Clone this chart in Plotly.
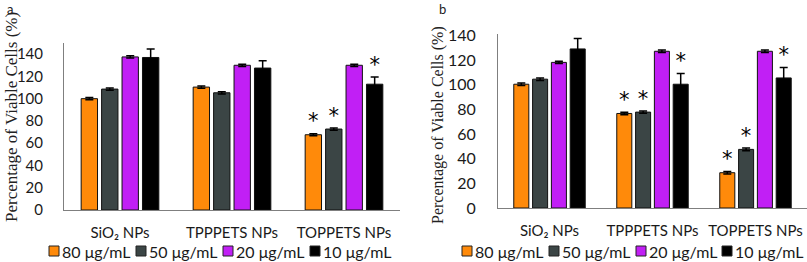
import plotly.graph_objects as go

W, H = 807, 262

categories = ["SiO₂ NPs", "TPPPETS NPs", "TOPPETS NPs"]
series_names = ["80 μg/mL", "50 μg/mL", "20 μg/mL", "10 μg/mL"]
colors = ["#FF8A0A", "#3B4545", "#C11FF5", "#000000"]
y_ticks = [0, 20, 40, 60, 80, 100, 120, 140]

# Panel a
a_80 = [100, 110.4, 67.6]
a_50 = [108.6, 105.3, 72.7]
a_20 = [137.5, 130, 130]
a_10 = [137, 127.5, 113]
a_err_80 = [1, 1, 1]
a_err_50 = [1, 1, 1]
a_err_20 = [1, 1, 1]
a_err_10 = [7.5, 6.5, 6.5]
a_sig_80 = ["", "", "*"]
a_sig_50 = ["", "", "*"]
a_sig_20 = ["", "", ""]
a_sig_10 = ["", "", "*"]

# Panel b
b_80 = [100.3, 76.6, 28.6]
b_50 = [104.4, 77.7, 47.5]
b_20 = [118, 127, 127]
b_10 = [128.9, 100.3, 105.4]
b_err_80 = [1, 1, 1]
b_err_50 = [1, 1, 1.2]
b_err_20 = [1, 1, 1]
b_err_10 = [8.4, 8.7, 8.5]
b_sig_80 = ["", "*", "*"]
b_sig_50 = ["", "*", "*"]
b_sig_20 = ["", "", ""]
b_sig_10 = ["", "*", "*"]

panels = [
    ("x", "y", [a_80, a_50, a_20, a_10], [a_err_80, a_err_50, a_err_20, a_err_10],
     [a_sig_80, a_sig_50, a_sig_20, a_sig_10]),
    ("x2", "y2", [b_80, b_50, b_20, b_10], [b_err_80, b_err_50, b_err_20, b_err_10],
     [b_sig_80, b_sig_50, b_sig_20, b_sig_10]),
]

SANS = "Lato, 'Open Sans', sans-serif"
SERIF = "'Liberation Serif', 'Times New Roman', serif"

fig = go.Figure()
for xa, ya, vals, errs, sigs in panels:
    for i in range(4):
        fig.add_trace(go.Bar(
            x=categories, y=vals[i], name=series_names[i], xaxis=xa, yaxis=ya,
            marker=dict(color=colors[i], line=dict(color="#111111", width=1)),
            error_y=dict(type="data", array=errs[i], visible=True,
                         color="#000000", thickness=1.5, width=4),
            showlegend=False, offsetgroup=str(i),
        ))
    for i in range(4):
        tops = [v + e for v, e in zip(vals[i], errs[i])]
        fig.add_trace(go.Scatter(
            x=categories, y=tops, text=sigs[i], mode="text",
            textposition="top center", xaxis=xa, yaxis=ya,
            textfont=dict(family="'DejaVu Sans', sans-serif", size=21, color="#000000"),
            showlegend=False, offsetgroup=str(i), hoverinfo="skip",
        ))

def px_x(p):
    return p / W

def px_y(p):
    return 1 - p / H

axis_common = dict(showline=True, linecolor="#7f7f7f", linewidth=1, ticks="",
                   showgrid=False, zeroline=False, automargin=False,
                   tickfont=dict(family=SANS, size=15, color="#1a1a1a"))

fig.update_layout(
    width=W, height=H,
    margin=dict(l=0, r=0, t=0, b=0, pad=0, autoexpand=False),
    paper_bgcolor="white", plot_bgcolor="white",
    barmode="group", bargap=0.27, bargroupgap=0.2,
    scattermode="group", scattergap=0.27,
    showlegend=False,
    xaxis=dict(domain=[px_x(64), px_x(400)], anchor="y", ticklabelstandoff=9, **axis_common),
    yaxis=dict(domain=[px_y(210), px_y(43)], anchor="x", range=[0, 150],
               tickvals=y_ticks, ticklabelstandoff=17, **axis_common),
    xaxis2=dict(domain=[px_x(498), 1.0], anchor="y2", ticklabelstandoff=9, **axis_common),
    yaxis2=dict(domain=[px_y(208), px_y(34)], anchor="x2", range=[0, 141],
                tickvals=y_ticks, ticklabelstandoff=18, **axis_common),
)
fig.update_yaxes(tickfont=dict(size=16))
fig.update_layout(yaxis_tickfont_size=15)

annotations = []
shapes = []
# panel letters
annotations.append(dict(text="a", x=px_x(10), y=px_y(9), xref="paper", yref="paper",
                        xanchor="center", yanchor="middle",
                        showarrow=False, font=dict(family=SANS, size=13, color="#222")))
annotations.append(dict(text="b", x=px_x(443), y=px_y(9), xref="paper", yref="paper",
                        xanchor="center", yanchor="middle",
                        showarrow=False, font=dict(family=SANS, size=13, color="#222")))
# y titles
annotations.append(dict(text="Percentage of Viable Cells (%)", x=px_x(11), y=px_y(117),
                        xref="paper", yref="paper", showarrow=False, textangle=-90,
                        xanchor="center", yanchor="middle",
                        font=dict(family=SERIF, size=17, color="#222")))
annotations.append(dict(text="Percentage of Viable Cells (%)", x=px_x(438), y=px_y(125),
                        xref="paper", yref="paper", showarrow=False, textangle=-90,
                        xanchor="center", yanchor="middle",
                        font=dict(family=SERIF, size=16, color="#222")))

# legends
legend_rows = [([49, 136, 223, 310], 251, 16), ([462, 549, 636, 722], 251, 16)]
for xs, yc, fs in legend_rows:
    for i, x0 in enumerate(xs):
        shapes.append(dict(type="rect", xref="paper", yref="paper",
                           x0=px_x(x0), x1=px_x(x0 + 10), y0=px_y(yc + 5), y1=px_y(yc - 5),
                           fillcolor=colors[i], line=dict(color="#222", width=1)))
        annotations.append(dict(text=series_names[i], x=px_x(x0 + 11), y=px_y(yc),
                                xref="paper", yref="paper", showarrow=False,
                                xanchor="left", yanchor="middle",
                                font=dict(family=SANS, size=fs, color="#1a1a1a")))

fig.update_layout(annotations=annotations, shapes=shapes)
fig.write_html("out.html", config={"displayModeBar": False},
               post_script="document.body.style.margin='0';document.body.style.overflow='hidden';")
